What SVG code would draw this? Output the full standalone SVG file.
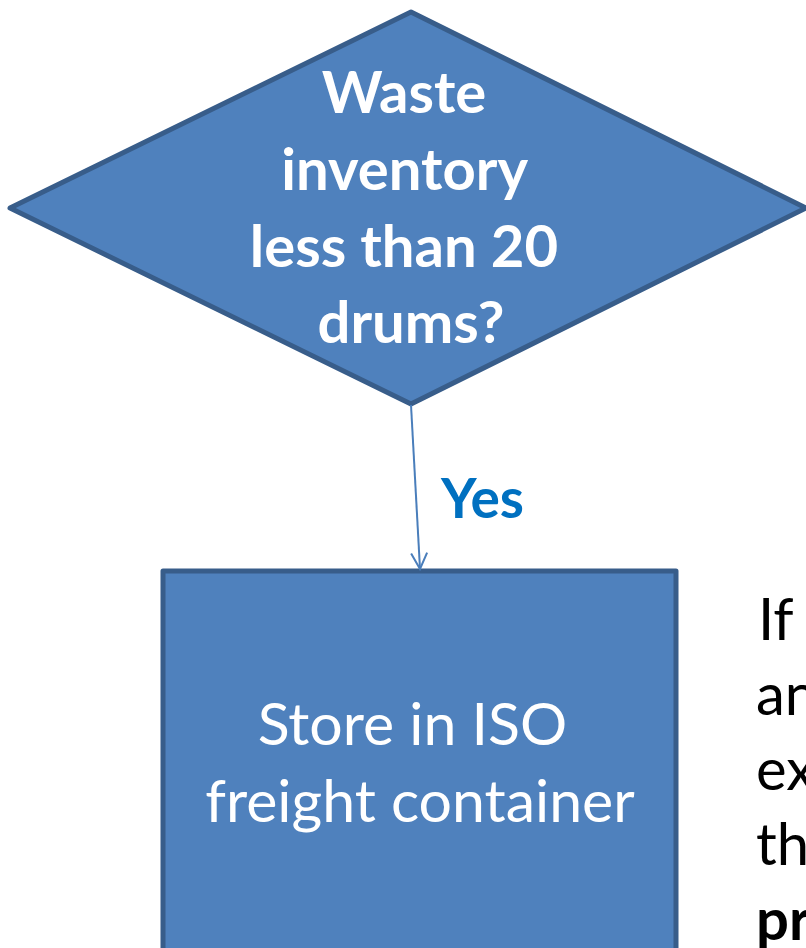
<svg xmlns="http://www.w3.org/2000/svg" width="806" height="948" viewBox="0 0 806 948">
  <defs>
    <style>
      .shape { fill: #4F81BD; stroke: #385D8A; stroke-width: 5; stroke-linejoin: round; }
      .lbl { font-family: Lato, "Open Sans", "Liberation Sans", sans-serif; fill: #FFFFFF; text-anchor: middle; }
      .bold { font-weight: bold; }
      .side { font-family: Lato, "Open Sans", "Liberation Sans", sans-serif; fill: #000000; font-size: 58px; }
      .edge { stroke: #4A7EBB; stroke-width: 2; fill: none; }
    </style>
    <marker id="arrow" viewBox="0 0 20 20" refX="18" refY="10" markerWidth="20" markerHeight="20" markerUnits="userSpaceOnUse" orient="auto">
      <path d="M2,2 L18,10 L2,18" fill="none" stroke="#4A7EBB" stroke-width="2"/>
    </marker>
  </defs>
  <rect width="806" height="948" fill="#FFFFFF"/>

  <g id="decision">
    <polygon class="shape" points="411,12 806,208 411,404 10,208"/>
    <text class="lbl bold" font-size="58">
      <tspan x="411" y="113">Waste</tspan>
      <tspan x="411" y="190">inventory</tspan>
      <tspan x="411" y="267">less than 20</tspan>
      <tspan x="411" y="343">drums?</tspan>
    </text>
  </g>

  <g id="store">
    <rect class="shape" x="163" y="571" width="513" height="390"/>
    <text class="lbl" font-size="59">
      <tspan x="420" y="745">Store in ISO</tspan>
      <tspan x="420" y="822">freight container</tspan>
    </text>
  </g>

  <g id="connectors">
    <line class="edge" x1="411" y1="405" x2="420" y2="569" marker-end="url(#arrow)"/>
    <text x="441" y="518" font-family="Lato, 'Open Sans', 'Liberation Sans', sans-serif" font-weight="bold" font-size="55" fill="#0070C0">Yes</text>
  </g>

  <g id="note">
    <text class="side" x="758" y="640">If</text>
    <text class="side" x="756" y="715">an</text>
    <text class="side" x="756" y="790">ex</text>
    <text class="side" x="756" y="865">th</text>
    <text class="side bold" x="756" y="940">pr</text>
  </g>
</svg>
